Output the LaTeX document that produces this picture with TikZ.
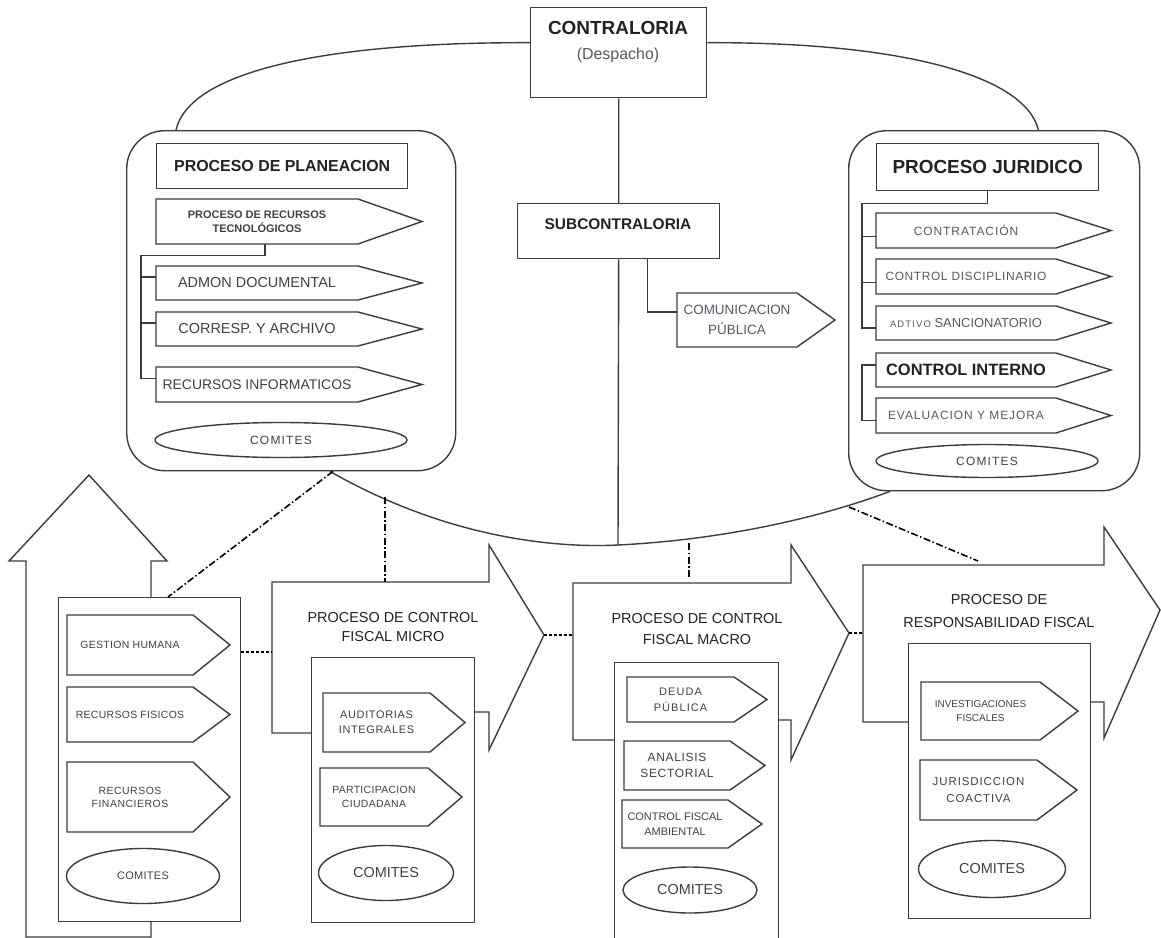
\documentclass[tikz,border=0pt]{standalone}
\usepackage{fontspec}
\setmainfont{Liberation Sans}
\usetikzlibrary{shapes.geometric}
\definecolor{linec}{HTML}{3C3C3C}
\definecolor{txtd}{HTML}{222222}
\definecolor{txtm}{HTML}{404040}
\definecolor{txtl}{HTML}{585858}
\definecolor{txtp}{HTML}{5E5266}
\newcommand\fsz[2]{\fontsize{#1}{#2}\selectfont}
\newcommand\lsp[1]{\addfontfeature{LetterSpace=#1}}
\tikzset{
  line/.style={draw=linec, line width=1.4bp, line join=miter},
  abox/.style={inner sep=0pt, align=center, text=txtm},
  ell/.style={ellipse, draw=linec, line width=1.4bp, inner sep=0pt, text=txtm, fill=white},
  rbx/.style={draw=linec, line width=1.4bp, inner sep=0pt, align=center},
  ddot/.style={draw=black, line width=1.6bp, dash pattern=on 7bp off 2.5bp on 1.5bp off 2.5bp},
  dots/.style={draw=black, line width=1.8bp, dash pattern=on 3bp off 2bp},
  lbl/.style={inner sep=0pt, align=center, text=txtm},
}
% arrow-shaped box: name, x, y(top), body width, height, tip length, options, text
\newcommand\abx[8]{%
  \node[abox,#7,minimum width=#4bp,minimum height=#5bp] (#1) at ({#2+#4/2},{#3+#5/2}) {#8};
  \draw[line] (#2,#3) -- ({#2+#4},#3) -- ({#2+#4+#6},{#3+#5/2}) -- ({#2+#4},{#3+#5}) -- (#2,{#3+#5}) -- cycle;
}
\begin{document}
\begin{tikzpicture}[x=1bp,y=-1bp]
\useasboundingbox[fill=white] (0,0) rectangle (1161,938);

% ---------- top ----------
\node[rbx, minimum width=176bp, minimum height=90bp, anchor=north west] (ctr) at (530,7) {};
\node[lbl, font=\bfseries\fsz{19}{22}, text=txtd] (ctrt) at (618,28) {CONTRALORIA};
\node[lbl, font=\fsz{16}{18}, text=txtl] (ctrd) at (618,55) {(Despacho)};

\node[rbx, fill=white, minimum width=202bp, minimum height=55bp, anchor=north west] (sub) at (517,203) {};
\node[lbl, font=\bfseries\fsz{15.5}{18}, text=txtd] (subt) at (618,224) {SUBCONTRALORIA};

% rounded containers
\node[rbx, rounded corners=38bp, minimum width=329bp, minimum height=340bp, anchor=north west] (plan) at (126,130) {};
\node[rbx, rounded corners=38bp, minimum width=291bp, minimum height=360bp, anchor=north west] (jur) at (848,130) {};

% big ellipse-like arcs
\draw[line] ([yshift=10bp]ctr.west) .. controls (330,42) and (190,70) .. ([xshift=50bp]plan.north west);
\draw[line] ([yshift=10bp]ctr.east) .. controls (900,42) and (1025,75) .. ([xshift=-102bp]jur.north east);
\coordinate (arcb) at (618,545);
\draw[line] ([xshift=204bp]plan.south west) .. controls (450,540) and (560,548) .. (arcb)
  .. controls (700,541) and (800,525) .. ([xshift=42bp]jur.south west);

% central spine
\draw[line] (ctr.south) -- (sub.north);
\draw[line] (sub.south) -- (arcb);

% comunicacion
\abx{com}{677}{293}{120}{54}{38}{font=\fsz{13.5}{20}, text=txtp}{COMUNICACION\\PÚBLICA}
\draw[line] ([xshift=29bp]sub.south) |- ([yshift=8bp]com.west);

% ---------- planeacion ----------
\node[rbx, minimum width=251bp, minimum height=45bp, anchor=north west, font=\bfseries\fsz{16}{18}, text=txtd] (pp) at (156,143) {PROCESO DE PLANEACION};
\abx{prt}{156}{199}{202}{45}{64}{font=\bfseries\fsz{11}{14}}{PROCESO DE RECURSOS\\TECNOLÓGICOS}
\abx{adm}{156}{266}{202}{34}{64}{font=\fsz{14.5}{17}}{ADMON DOCUMENTAL}
\abx{cor}{156}{312}{202}{34}{64}{font=\fsz{14.5}{17}}{CORRESP. Y ARCHIVO}
\abx{rin}{156}{367}{202}{35}{64}{font=\fsz{14}{17}}{RECURSOS INFORMATICOS}
\node[ell, minimum width=252bp, minimum height=35bp, font=\fsz{12}{14}\lsp{10}] (pcom) at (281,440) {COMITES};
\draw[line] ([xshift=8bp]prt.south) -- ++(0,11) -| ([xshift=-15bp,yshift=6bp]rin.west) -- ([yshift=6bp]rin.west);
\draw[line] ([xshift=-15bp,yshift=6bp]adm.west) -- ([yshift=6bp]adm.west);
\draw[line] ([xshift=-15bp,yshift=6bp]cor.west) -- ([yshift=6bp]cor.west);

% ---------- juridico ----------
\node[rbx, minimum width=222bp, minimum height=47bp, anchor=north west, font=\bfseries\fsz{19}{22}, text=txtd] (pj) at (876,143) {PROCESO JURIDICO};
\abx{ctt}{876}{213}{180}{35}{55}{font=\fsz{12}{14}\lsp{8}, text=txtl}{CONTRATACIÓN}
\abx{cdi}{876}{259}{180}{35}{55}{font=\fsz{12}{14}\lsp{5}, text=txtl}{CONTROL DISCIPLINARIO}
\abx{ads}{876}{306}{180}{34}{55}{font=\fsz{13}{15}, text=txtl}{{\fsz{9.5}{11}\lsp{12}ADTIVO} SANCIONATORIO}
\abx{cin}{876}{353}{180}{34}{55}{font=\bfseries\fsz{16.5}{19}, text=txtd}{CONTROL INTERNO}
\abx{evm}{876}{398}{180}{35}{55}{font=\fsz{12}{14}\lsp{8}, text=txtl}{EVALUACION Y MEJORA}
\node[ell, minimum width=222bp, minimum height=33bp, font=\fsz{12}{14}\lsp{10}] (jcom) at (987,461) {COMITES};
\draw[line] (pj.south) -- ++(0,12) -| ([xshift=-14bp,yshift=-5bp]ads.west) -- ([yshift=-5bp]ads.west);
\draw[line] ([xshift=-14bp,yshift=-6bp]ctt.west) -- ([yshift=-6bp]ctt.west);
\draw[line] ([xshift=-14bp,yshift=-6bp]cdi.west) -- ([yshift=-6bp]cdi.west);
\draw[line] ([yshift=5bp]cin.west) -- ++(-14,0) |- ([yshift=-5bp]evm.west);

% ---------- bottom: up arrow + support box ----------
\draw[line, fill=white] (26,937) -- (26,561) -- (9,561) -- (89,475) -- (167,561) -- (151,561) -- (151,937) -- cycle;
\node[rbx, fill=white, minimum width=182bp, minimum height=324bp, anchor=north west] (lbox) at (58,597) {};
\abx{gh}{67}{615}{126}{60}{37}{font=\fsz{10.5}{13}\lsp{3}}{GESTION HUMANA}
\abx{rfi}{67}{687}{126}{55}{37}{font=\fsz{10.5}{13}\lsp{3}}{RECURSOS FISICOS}
\abx{rfn}{67}{762}{126}{70}{37}{font=\fsz{10.5}{13}\lsp{5}}{RECURSOS\\FINANCIEROS}
\node[ell, minimum width=153bp, minimum height=55bp, font=\fsz{11}{13}\lsp{3}] (lcom) at (143,876) {COMITES};

% ---------- micro ----------
\draw[line, fill=white] (272,582) -- (489,582) -- (489,545) -- (544,635) -- (489,750) -- (489,712) -- (400,712) -- (400,733) -- (272,733) -- cycle;
\node[rbx, fill=white, minimum width=163bp, minimum height=265bp, anchor=north west] (mbox) at (311,657) {};
\node[lbl, font=\fsz{14.5}{20}, text=txtd] (mtit) at (393,627) {PROCESO DE CONTROL\\FISCAL MICRO};
\abx{aud}{323}{693}{107}{59}{35}{font=\fsz{11}{15}\lsp{6}}{AUDITORIAS\\INTEGRALES}
\abx{par}{320}{768}{108}{58}{34}{font=\fsz{10.5}{14}\lsp{3}}{PARTICIPACION\\CIUDADANA}
\node[ell, minimum width=135bp, minimum height=55bp, font=\fsz{14.5}{17}] (mcom) at (386,873) {COMITES};

% ---------- macro ----------
\draw[line, fill=white] (573,583) -- (791,583) -- (791,545) -- (849,633) -- (791,760) -- (791,720) -- (700,720) -- (700,740) -- (573,740) -- cycle;
\node[rbx, fill=white, minimum width=164bp, minimum height=290bp, anchor=north west] (cbox) at (614,662) {};
\node[lbl, font=\fsz{14.5}{22}, text=txtd] (ctit) at (697,629) {PROCESO DE CONTROL\\FISCAL MACRO};
\abx{deu}{627}{677}{107}{45}{33}{font=\fsz{11}{16}\lsp{10}}{DEUDA\\PÚBLICA}
\abx{ana}{624}{741}{106}{49}{35}{font=\fsz{12}{16}\lsp{6}}{ANALISIS\\SECTORIAL}
\abx{cfa}{622}{800}{106}{48}{34}{font=\fsz{11}{15}}{CONTROL FISCAL\\AMBIENTAL}
\node[ell, minimum width=134bp, minimum height=46bp, font=\fsz{14.5}{17}] (ccom) at (690,890) {COMITES};

% ---------- responsabilidad ----------
\draw[line, fill=white] (863,565) -- (1104,565) -- (1104,527) -- (1160,610) -- (1104,738) -- (1104,702) -- (1000,702) -- (1000,722) -- (863,722) -- cycle;
\node[rbx, fill=white, minimum width=182bp, minimum height=275bp, anchor=north west] (rbox) at (908,643) {};
\node[lbl, font=\fsz{14.5}{23}, text=txtd] (rtit) at (999,611) {PROCESO DE\\RESPONSABILIDAD FISCAL};
\abx{inv}{921}{682}{119}{58}{38}{font=\fsz{10}{14}}{INVESTIGACIONES\\FISCALES}
\abx{jco}{920}{760}{117}{60}{40}{font=\fsz{11.5}{17}\lsp{8}}{JURISDICCION\\COACTIVA}
\node[ell, minimum width=147bp, minimum height=57bp, font=\fsz{14.5}{17}] (rcom) at (992,869) {COMITES};

% ---------- dotted and dash-dot links ----------
\coordinate (microL) at (272,652);
\coordinate (microT) at (544,635);
\coordinate (macroL) at (573,635);
\coordinate (macroT) at (849,633);
\coordinate (respL) at (863,633);
\draw[dots] (lbox.east |- microL) -- (microL);
\draw[dots] (microT) -- (macroL);
\draw[dots] (macroT) -- (respL);

\coordinate (a1) at (385,497);
\coordinate (m1) at (385,582);
\coordinate (a2) at (689,543);
\coordinate (m2) at (689,578);
\coordinate (a3) at (849,507);
\coordinate (m3) at (978,561);
\draw[ddot] ([xshift=207bp]plan.south west) -- ([xshift=110bp]lbox.north west);
\draw[ddot] (a1) -- (m1);
\draw[ddot] (a2) -- (m2);
\draw[ddot] (a3) -- (m3);
\end{tikzpicture}
\end{document}
